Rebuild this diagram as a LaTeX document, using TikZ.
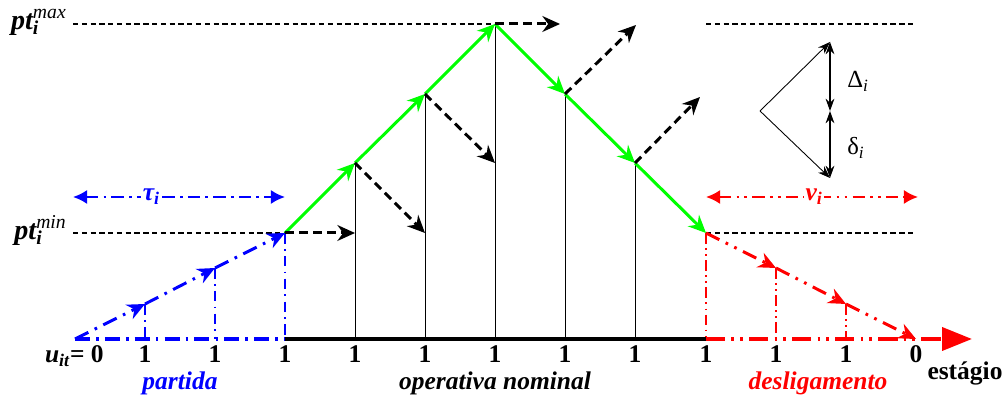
\documentclass[tikz,border=0pt]{standalone}
\usepackage{fontspec}
\setmainfont{Liberation Serif}
\usetikzlibrary{arrows.meta}
\definecolor{lgreen}{RGB}{0,255,0}
\definecolor{pblue}{RGB}{0,0,255}
\definecolor{pred}{RGB}{255,0,0}
\tikzset{
  level/.style      = { black, line width=0.8pt, dash pattern=on 3pt off 2pt },
  thinvert/.style   = { black, line width=0.5pt },
  nominal/.style    = { black, line width=2.3pt },
  startbar/.style   = { pblue, line width=2.3pt, dash pattern=on 8.5pt off 3.5pt on 1.5pt off 3.5pt },
  stopbar/.style    = { pred, line width=2.3pt, dash pattern=on 11pt off 3.5pt on 1.5pt off 3.5pt on 1.5pt off 3.5pt,
                        -{Triangle[length=17pt,width=13pt]} },
  startvert/.style  = { pblue, line width=0.8pt, dash pattern=on 6pt off 3pt on 1pt off 3pt },
  stopvert/.style   = { pred, line width=0.8pt, dash pattern=on 6pt off 2.5pt on 1pt off 2.5pt on 1pt off 2.5pt },
  startramp/.style  = { pblue, line width=1.7pt, dash pattern=on 8.5pt off 4pt on 1.5pt off 4pt,
                        -{Stealth[length=10pt,width=9pt]} },
  stopramp/.style   = { pred, line width=1.7pt, dash pattern=on 8.5pt off 4pt on 1.5pt off 4pt on 1.5pt off 4pt,
                        -{Stealth[length=10pt,width=9pt]} },
  ramp/.style       = { lgreen, line width=1.7pt, -{Stealth[length=10pt,width=9pt]} },
  option/.style     = { black, line width=1.7pt, dash pattern=on 5pt off 3pt, -{Stealth[length=10pt,width=9pt]} },
  tauspan/.style    = { pblue, line width=1.2pt, dash pattern=on 7pt off 3pt on 1.5pt off 3pt,
                        {Latex[length=8pt,width=8pt]}-{Latex[length=8pt,width=8pt]} },
  nuspan/.style     = { pred, line width=1.2pt, dash pattern=on 7pt off 3pt on 1.5pt off 3pt on 1.5pt off 3pt,
                        {Latex[length=8pt,width=8pt]}-{Latex[length=8pt,width=8pt]} },
  legend/.style     = { black, line width=0.5pt, -{Stealth[length=7pt,width=5pt]} },
  legendbar/.style  = { black, line width=0.7pt, {Stealth[length=7pt,width=5pt]}-{Stealth[length=7pt,width=5pt]} },
  stagenum/.style   = { font=\fontsize{14.5}{17}\selectfont\bfseries, inner sep=0pt, anchor=base },
  phase/.style      = { font=\fontsize{14.5}{17}\selectfont\bfseries\itshape, inner sep=0pt, anchor=base },
  ptlabel/.style    = { font=\fontsize{16}{18}\selectfont\bfseries\itshape, inner sep=0pt, anchor=base east },
}

\begin{document}
\begin{tikzpicture}[x=0.02cm,y=0.02cm]
    \useasboundingbox (0,0) rectangle (1003,401);

    % power profile points
    \coordinate (p0)  at (75,62);
    \coordinate (p1)  at (145,97);
    \coordinate (p2)  at (215,133);
    \coordinate (p3)  at (285,168);
    \coordinate (p4)  at (355,238);
    \coordinate (p5)  at (425,307);
    \coordinate (p6)  at (495,377);
    \coordinate (p7)  at (565,307);
    \coordinate (p8)  at (635,238);
    \coordinate (p9)  at (706,168);
    \coordinate (p10) at (776,133);
    \coordinate (p11) at (846,97);
    \coordinate (p12) at (916,62);
    \coordinate (axisend) at (972,62);

    % levels pt max / pt min
    \node[ptlabel] (ptmax) at (67,371) {pt\makebox[0pt][l]{\textsubscript{i}}\textsuperscript{\mdseries max}};
    \node[ptlabel] (ptmin) at (67,161) {pt\makebox[0pt][l]{\textsubscript{i}}\textsuperscript{\mdseries min}};
    \draw[level] (73,377) -- (p6);
    \draw[level] (73,168) -- (p3);
    \draw[level] (p9 |- p6) -- (p12 |- p6);
    \draw[level] (p9) -- (p12 |- p9);

    % vertical lines
    \draw[startvert] (p1) -- (p1 |- p0);
    \draw[startvert] (p2) -- (p2 |- p0);
    \draw[startvert] (p3) -- (p3 |- p0);
    \draw[thinvert] (p4) -- (p4 |- p0);
    \draw[thinvert] (p5) -- (p5 |- p0);
    \draw[thinvert] (p6) -- (p6 |- p0);
    \draw[thinvert] (p7) -- (p7 |- p0);
    \draw[thinvert] (p8) -- (p8 |- p0);
    \draw[stopvert] (p9) -- (p9 |- p0);
    \draw[stopvert] (p10) -- (p10 |- p0);
    \draw[stopvert] (p11) -- (p11 |- p0);

    % stage axis
    \draw[startbar] (p0) -- (p3 |- p0);
    \draw[nominal] (p3 |- p0) -- (p9 |- p0);
    \draw[stopbar] (p9 |- p0) -- (axisend);

    % start-up ramp
    \draw[startramp] (p0) -- (p1);
    \draw[startramp] (p1) -- (p2);
    \draw[startramp] (p2) -- (p3);

    % nominal operation
    \draw[ramp] (p3) -- (p4);
    \draw[ramp] (p4) -- (p5);
    \draw[ramp] (p5) -- (p6);
    \draw[ramp] (p6) -- (p7);
    \draw[ramp] (p7) -- (p8);
    \draw[ramp] (p8) -- (p9);

    % shut-down ramp
    \draw[stopramp] (p9) -- (p10);
    \draw[stopramp] (p10) -- (p11);
    \draw[stopramp] (p11) -- (p12);

    % other possible transitions
    \coordinate (o3) at (p4 |- p3);
    \coordinate (o4) at (p5 |- p3);
    \coordinate (o5) at (p6 |- p4);
    \coordinate (o6) at (560,377);
    \coordinate (o7) at (636,376);
    \coordinate (o8) at (700,304);
    \draw[option] (p3) -- (o3);
    \draw[option] (p4) -- (o4);
    \draw[option] (p5) -- (o5);
    \draw[option] (p6) -- (o6);
    \draw[option] (p7) -- (o7);
    \draw[option] (p8) -- (o8);

    % minimum times
    \coordinate (tauL) at (73,204);
    \coordinate (tauR) at (285,204);
    \coordinate (nuL) at (706,204);
    \coordinate (nuR) at (918,204);
    \draw[tauspan] (tauL) -- node[pos=0.37, fill=white, inner sep=1pt, text=pblue,
        font=\fontsize{14.5}{17}\selectfont\bfseries\itshape] (tau) {τ\textsubscript{i}} (tauR);
    \draw[nuspan] (nuL) -- node[pos=0.51, fill=white, inner sep=1pt, text=pred,
        font=\fontsize{14.5}{17}\selectfont\bfseries\itshape] (nu) {ν\textsubscript{i}} (nuR);

    % legend: ramp limits
    \coordinate (apex) at (760,290);
    \coordinate (ltop) at (830,359);
    \coordinate (lmid) at (830,290);
    \coordinate (lbot) at (830,223);
    \draw[legend] (apex) -- (ltop);
    \draw[legend] (apex) -- (lbot);
    \draw[legendbar] (ltop) -- (lmid);
    \draw[legendbar] (lmid) -- (lbot);
    \node[anchor=base west, inner sep=0pt, font=\fontsize{14}{16}\selectfont] (Delta) at (847,313) {Δ\textsubscript{\itshape i}};
    \node[anchor=base west, inner sep=0pt, font=\fontsize{14}{16}\selectfont] (delta) at (847,246) {δ\textsubscript{\itshape i}};

    % stage labels
    \node[stagenum, anchor=base east] (u0) at (104,38) {\itshape u\textsubscript{it}\upshape= 0};
    \node[stagenum] (n1)  at (p1 |- 0,38) {1};
    \node[stagenum] (n2)  at (p2 |- 0,38) {1};
    \node[stagenum] (n3)  at (p3 |- 0,38) {1};
    \node[stagenum] (n4)  at (p4 |- 0,38) {1};
    \node[stagenum] (n5)  at (p5 |- 0,38) {1};
    \node[stagenum] (n6)  at (p6 |- 0,38) {1};
    \node[stagenum] (n7)  at (p7 |- 0,38) {1};
    \node[stagenum] (n8)  at (p8 |- 0,38) {1};
    \node[stagenum] (n9)  at (p9 |- 0,38) {1};
    \node[stagenum] (n10) at (p10 |- 0,38) {1};
    \node[stagenum] (n11) at (p11 |- 0,38) {1};
    \node[stagenum] (n12) at (p12 |- 0,38) {0};
    \node[stagenum] (stage) at (965,21) {estágio};

    % phases
    \node[phase, text=pblue] (partida) at (180,11) {partida};
    \node[phase] (nominal) at (495,11) {operativa nominal};
    \node[phase, text=pred] (desl) at (818,11) {desligamento};
\end{tikzpicture}
\end{document}
